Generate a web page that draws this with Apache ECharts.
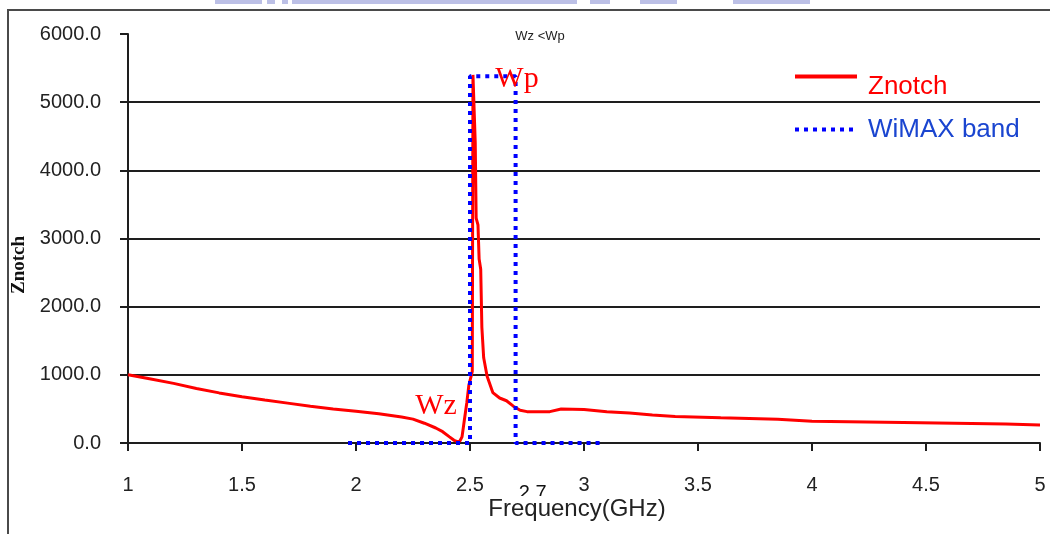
<!DOCTYPE html>
<html>
<head>
<meta charset="utf-8">
<script src="https://cdn.jsdelivr.net/npm/echarts@6/dist/echarts.min.js"></script>
<style>
  html, body { margin: 0; padding: 0; background: #fff; }
  #chart { width: 1050px; height: 534px; }
</style>
</head>
<body>
<div id="chart"></div>
<script>
// Notch impedance versus frequency (GHz)
const frequency = [
  1.00, 1.10, 1.20, 1.30, 1.40, 1.50, 1.60, 1.70, 1.80, 1.90,
  2.00, 2.10, 2.20, 2.25, 2.30, 2.35, 2.38, 2.41, 2.43, 2.445,
  2.455, 2.465, 2.475, 2.486, 2.495, 2.505, 2.51, 2.513, 2.519, 2.523,
  2.527, 2.535, 2.54, 2.547, 2.552, 2.56, 2.575, 2.60, 2.63, 2.66,
  2.69, 2.72, 2.75, 2.85, 2.90, 3.00, 3.10, 3.20, 3.30, 3.40,
  3.60, 3.85, 4.00, 4.40, 4.85, 5.00
];
const znotch = [
  1000, 940, 875, 800, 735, 680, 630, 585, 540, 500,
  465, 430, 380, 350, 290, 220, 166, 90, 40, 20,
  25, 90, 330, 590, 850, 980, 1050, 5400, 5400, 4400,
  3300, 3200, 2700, 2550, 1700, 1250, 980, 740, 660, 620,
  540, 480, 460, 460, 500, 490, 460, 440, 410, 390,
  370, 350, 320, 300, 280, 265
];

// WiMAX band outline: 2.5 GHz to 2.7 GHz
const bandFreq = [1.965, 2.5, 2.5, 2.7, 2.7, 3.09];
const bandLevel = [0, 0, 5380, 5380, 0, 0];

const seriesNames = ['Znotch', 'WiMAX band'];
const titleText = 'Wz <Wp';
const xTitle = 'Frequency(GHz)';
const yTitle = 'Znotch';
const bandEdgeLabel = '2.7';

const zip = (xs, ys) => xs.map((x, i) => [x, ys[i]]);

const axisColor = '#1e1e1e';
const gridColor = '#1e1e1e';

const chart = echarts.init(document.getElementById('chart'), null, { renderer: 'canvas' });

chart.setOption({
  animation: false,
  backgroundColor: '#ffffff',
  title: {
    text: titleText,
    left: 535,
    top: 25,
    textAlign: 'center',
    textStyle: { fontFamily: 'Liberation Sans', fontSize: 13, fontWeight: 'normal', color: '#222' }
  },
  legend: {
    orient: 'vertical',
    left: 793,
    top: 71,
    padding: 0,
    itemWidth: 62,
    itemHeight: 14,
    itemGap: 17,
    selectedMode: false,
    itemStyle: { color: 'transparent', borderWidth: 0, opacity: 0 },
    textStyle: {
      fontFamily: 'Liberation Sans',
      fontSize: 26,
      rich: {
        low: { fontFamily: 'Liberation Sans', fontSize: 26, color: '#ff0000', lineHeight: 46, verticalAlign: 'bottom', padding: [0, 0, 0, 6] },
        mid: { fontFamily: 'Liberation Sans', fontSize: 26, color: '#1a45d0', lineHeight: 30, padding: [0, 0, 0, 6] }
      }
    },
    formatter: name => (name === seriesNames[0] ? '{low|' + name + '}' : '{mid|' + name + '}'),
    data: [
      { name: seriesNames[0], lineStyle: { width: 4 } },
      { name: seriesNames[1], lineStyle: { width: 4, type: [4, 5] } }
    ]
  },
  grid: { left: 128, right: 10, top: 34, bottom: 91, containLabel: false },
  xAxis: {
    type: 'value',
    min: 1,
    max: 5,
    interval: 0.5,
    axisLine: { show: true, onZero: false, lineStyle: { color: axisColor, width: 2 } },
    axisTick: { show: true, length: 8, lineStyle: { color: axisColor, width: 2 } },
    axisLabel: {
      margin: 32,
      color: '#222',
      fontFamily: 'Liberation Sans',
      fontSize: 20,
      formatter: v => String(v)
    },
    splitLine: { show: false }
  },
  yAxis: {
    type: 'value',
    min: 0,
    max: 6000,
    interval: 1000,
    axisLine: { show: true, lineStyle: { color: axisColor, width: 2 } },
    axisTick: { show: true, length: 8, lineStyle: { color: axisColor, width: 2 } },
    axisLabel: {
      margin: 27,
      color: '#222',
      fontFamily: 'Liberation Sans',
      fontSize: 20,
      formatter: v => v.toFixed(1)
    },
    splitLine: { show: true, showMaxLine: false, lineStyle: { color: gridColor, width: 2 } }
  },
  series: [
    {
      name: seriesNames[0],
      type: 'line',
      data: zip(frequency, znotch),
      symbol: 'none',
      lineStyle: { color: '#ff0000', width: 3 },
      itemStyle: { color: '#ff0000' },
      z: 3,
      markPoint: {
        symbolSize: 0,
        silent: true,
        label: {
          show: true,
          position: 'inside',
          color: '#ff0000',
          fontFamily: 'Liberation Serif',
          fontSize: 30
        },
        data: [
          { name: 'Wz', coord: [2.351, 535], label: { formatter: 'Wz' } },
          { name: 'Wp', coord: [2.706, 5340], label: { formatter: 'Wp' } }
        ]
      }
    },
    {
      name: seriesNames[1],
      type: 'line',
      data: zip(bandFreq, bandLevel),
      symbol: 'none',
      lineStyle: { color: '#0000ff', width: 4, type: [4, 5] },
      itemStyle: { color: '#0000ff' },
      z: 4
    }
  ]
});

// Frame, faint header strip, axis titles and the band-edge note
const edge = chart.convertToPixel({ gridIndex: 0 }, [2.7, 0]);
const headerBits = [[215, 47], [267, 8], [282, 6], [292, 285], [590, 20], [640, 37], [733, 77]];
chart.setOption({
  graphic: [
    {
      type: 'rect', silent: true, z: -10,
      shape: { x: 8, y: 10, width: 1200, height: 700 },
      style: { fill: 'none', stroke: '#4a4a4a', lineWidth: 2 }
    },
    ...headerBits.map(([x, w]) => ({
      type: 'rect', silent: true, z: -10,
      shape: { x: x, y: 0, width: w, height: 4 },
      style: { fill: '#bcc0e6' }
    })),
    {
      type: 'text', silent: true, z: 5,
      x: 19, y: 265, rotation: Math.PI / 2,
      style: {
        text: yTitle, align: 'center', verticalAlign: 'middle',
        font: 'bold 19px "Liberation Serif"', fill: '#111'
      }
    },
    {
      type: 'text', silent: true, z: 5,
      x: edge[0] + 17, y: 483,
      style: {
        text: bandEdgeLabel, align: 'center', verticalAlign: 'top',
        font: '20px "Liberation Sans"', fill: '#111'
      }
    },
    {
      type: 'text', silent: true, z: 6,
      x: 577, y: 496,
      style: {
        text: xTitle, align: 'center', verticalAlign: 'top',
        font: '24px "Liberation Sans"', fill: '#222',
        backgroundColor: '#ffffff', padding: [1, 4, 2, 4]
      }
    }
  ]
});
</script>
</body>
</html>
